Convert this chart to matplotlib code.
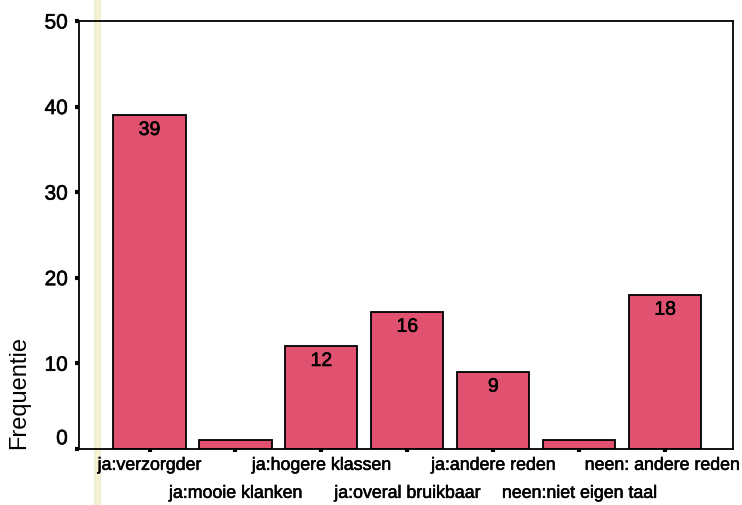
import matplotlib
matplotlib.use("Agg")
import matplotlib.pyplot as plt
from matplotlib.lines import Line2D
import matplotlib.transforms as mtransforms
import matplotlib.patheffects as pe

plt.rcParams['font.family'] = ['Liberation Sans', 'DejaVu Sans']

# -- data
categories = ["ja:verzorgder", "ja:mooie klanken", "ja:hogere klassen",
              "ja:overal bruikbaar", "ja:andere reden", "neen:niet eigen taal",
              "neen: andere reden"]
counts = [39, 1, 12, 16, 9, 1, 18]
yticks = [0, 10, 20, 30, 40, 50]

heavy = [pe.withStroke(linewidth=0.4, foreground="black")]

fig = plt.figure(figsize=(7.42, 5.06), dpi=100)
ax = fig.add_axes([0.1065, 0.111, 0.8815, 0.8455])
ax.set_facecolor("none")

x = list(range(len(categories)))
bars = ax.bar(x, counts, width=0.84, color="#e0526f", edgecolor="black", linewidth=1.3)

# value labels inside the bars (the 1-bars are too small)
for b, v in zip(bars, counts):
    if v > 1:
        ax.text(b.get_x() + b.get_width() / 2, v - 0.8, str(v), ha="center", va="top",
                fontsize=14, path_effects=heavy)

ax.set_xlim(-0.82, 6.79)
ax.set_ylim(0, 50)
ax.set_yticks(yticks)
ax.set_yticklabels([str(t) for t in yticks], fontsize=15)
for t in ax.get_yticklabels():
    t.set_path_effects(heavy)
ax.set_xticks(x)
ax.set_xticklabels([])
ax.tick_params(axis="y", direction="out", length=3, width=3, pad=5)
ax.tick_params(axis="x", direction="out", length=2.5, width=3)

# staggered category labels
for i, lab in enumerate(categories):
    off = 8 if i % 2 == 0 else 36
    dx = -3 if i == len(categories) - 1 else 0
    ax.annotate(lab, xy=(i, 0), xycoords=("data", "axes fraction"),
                xytext=(dx, -off), textcoords="offset pixels",
                ha="center", va="top", fontsize=12.8, path_effects=heavy)

# "0" sits a bit above the axis line in the original
lab0 = ax.get_yticklabels()[0]
lab0.set_transform(lab0.get_transform() + mtransforms.ScaledTranslation(0, 0.12, fig.dpi_scale_trans))

ax.set_ylabel("Frequentie", fontsize=17)
ax.yaxis.set_label_coords(-0.075, 0.135)

for s in ax.spines.values():
    s.set_linewidth(1.3)

# scan artefact: faint yellow band near the y axis, behind everything
fig.add_artist(Line2D([0.131, 0.131], [0, 1], color="#f6f3d2", linewidth=3.5, zorder=-5))
fig.add_artist(Line2D([0.127, 0.127], [0, 1], color="#ecebd6", linewidth=0.7, zorder=-5))
fig.add_artist(Line2D([0.135, 0.135], [0, 1], color="#ecebd6", linewidth=0.7, zorder=-5))

fig.savefig("out.png", dpi=100)
